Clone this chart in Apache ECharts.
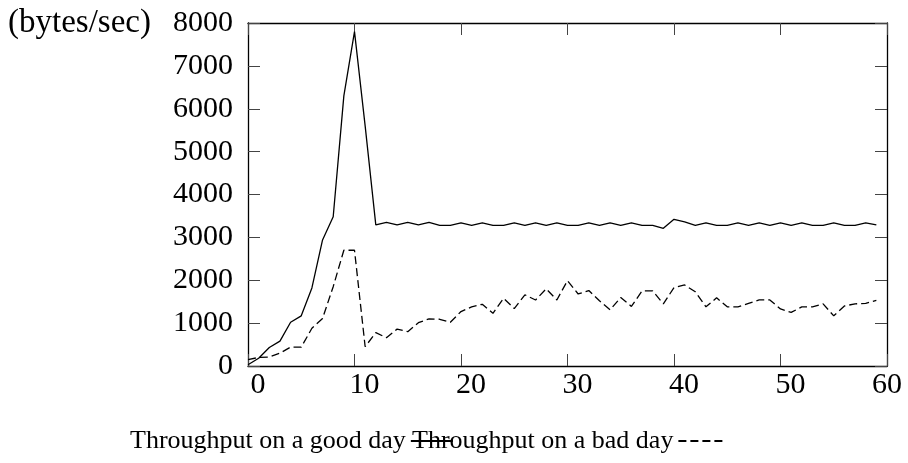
<!DOCTYPE html>
<html>
<head>
<meta charset="utf-8">
<script src="https://cdn.jsdelivr.net/npm/echarts@6/dist/echarts.min.js"></script>
<style>
html,body{margin:0;padding:0;background:#fff;}
#chart{width:908px;height:463px;}
</style>
</head>
<body>
<div id="chart"></div>
<script>
var seconds = [0,1,2,3,4,5,6,7,8,9,10,11,12,13,14,15,16,17,18,19,20,21,22,23,24,25,26,27,28,29,30,31,32,33,34,35,36,37,38,39,40,41,42,43,44,45,46,47,48,49,50,51,52,53,54,55,56,57,58,59];
var goodDay = [30,180,430,580,1020,1170,1820,2940,3480,6300,7800,5600,3290,3350,3290,3350,3290,3350,3280,3280,3340,3280,3340,3280,3280,3340,3280,3340,3280,3340,3280,3280,3340,3280,3340,3280,3340,3280,3280,3210,3420,3360,3280,3340,3280,3280,3340,3280,3340,3280,3340,3280,3340,3280,3280,3340,3280,3280,3340,3290];
var badDay = [150,200,210,300,440,440,880,1110,1850,2700,2700,450,780,660,860,800,1010,1100,1090,1020,1270,1380,1440,1230,1580,1340,1660,1540,1800,1540,1990,1680,1760,1520,1310,1600,1390,1750,1750,1450,1830,1890,1730,1380,1590,1380,1380,1460,1540,1540,1330,1250,1380,1380,1450,1170,1400,1450,1460,1530];
var xTicks = {min: 0, max: 60, interval: 10};
var yTicks = {min: 0, max: 8000, interval: 1000};
var yUnit = '(bytes/sec)';
var goodName = 'Throughput on a good day';
var badName = 'Throughput on a bad day';

function pairs(xs, ys){ return xs.map(function(x,i){ return [x, ys[i]]; }); }

var FONT = '"Liberation Serif", "DejaVu Serif", serif';
var chart = echarts.init(document.getElementById('chart'), null, {renderer:'canvas'});
var tickStyle = {show:true, inside:true, length:12, lineStyle:{color:'#444', width:1}};
var lineAx = {show:true, onZero:false, lineStyle:{color:'#000', width:1.3}};
var hiddenSym = {color:'rgba(0,0,0,0)', borderColor:'rgba(0,0,0,0)', borderWidth:0};
chart.setOption({
  animation:false,
  backgroundColor:'#fff',
  grid:{left:248, right:21, top:23, bottom:97},
  xAxis:[
    {type:'value', position:'bottom', min:xTicks.min, max:xTicks.max, interval:xTicks.interval,
     axisLine:lineAx, axisTick:tickStyle, splitLine:{show:false},
     axisLabel:{margin:4, color:'#000', fontFamily:FONT, fontSize:30,
       formatter:function(v){ return v===60 ? '{b|'+v+'}' : '{a|'+v+'}'; },
       rich:{a:{padding:[0,0,0,20], fontFamily:FONT, fontSize:30, color:'#000'},
             b:{padding:[0,0,0,0], fontFamily:FONT, fontSize:30, color:'#000'}}}},
    {type:'value', position:'top', min:xTicks.min, max:xTicks.max, interval:xTicks.interval,
     axisLine:lineAx, axisTick:tickStyle, splitLine:{show:false}, axisLabel:{show:false}}
  ],
  yAxis:[
    {type:'value', position:'left', min:yTicks.min, max:yTicks.max, interval:yTicks.interval,
     axisLine:lineAx, axisTick:tickStyle, splitLine:{show:false},
     axisLabel:{margin:15, color:'#000', fontFamily:FONT, fontSize:30,
       formatter:function(v){ return String(v); }}},
    {type:'value', position:'right', min:yTicks.min, max:yTicks.max, interval:yTicks.interval,
     axisLine:lineAx, axisTick:tickStyle, splitLine:{show:false}, axisLabel:{show:false}}
  ],
  legend:[
    {left:130, top:428, padding:0, align:'right', itemWidth:42, itemHeight:14, itemGap:0,
     itemStyle:hiddenSym, data:[goodName], textStyle:{fontFamily:FONT, fontSize:26, color:'#000'}},
    {left:412, top:428, padding:0, align:'right', itemWidth:44, itemHeight:14, itemGap:0,
     itemStyle:hiddenSym, data:[badName], textStyle:{fontFamily:FONT, fontSize:26, color:'#000'}}
  ],
  graphic:[
    {type:'text', left:8, top:7, style:{text:yUnit, font:'33px '+FONT, fill:'#000'}}
  ],
  series:[
    {name:goodName, type:'line', data:pairs(seconds, goodDay), symbol:'none',
     lineStyle:{color:'#000', width:1.3}, itemStyle:{color:'#000'}},
    {name:badName, type:'line', data:pairs(seconds, badDay), symbol:'none',
     lineStyle:{color:'#000', width:1.3, type:[8,4]}, itemStyle:{color:'#000'}}
  ]
});
</script>
</body>
</html>
